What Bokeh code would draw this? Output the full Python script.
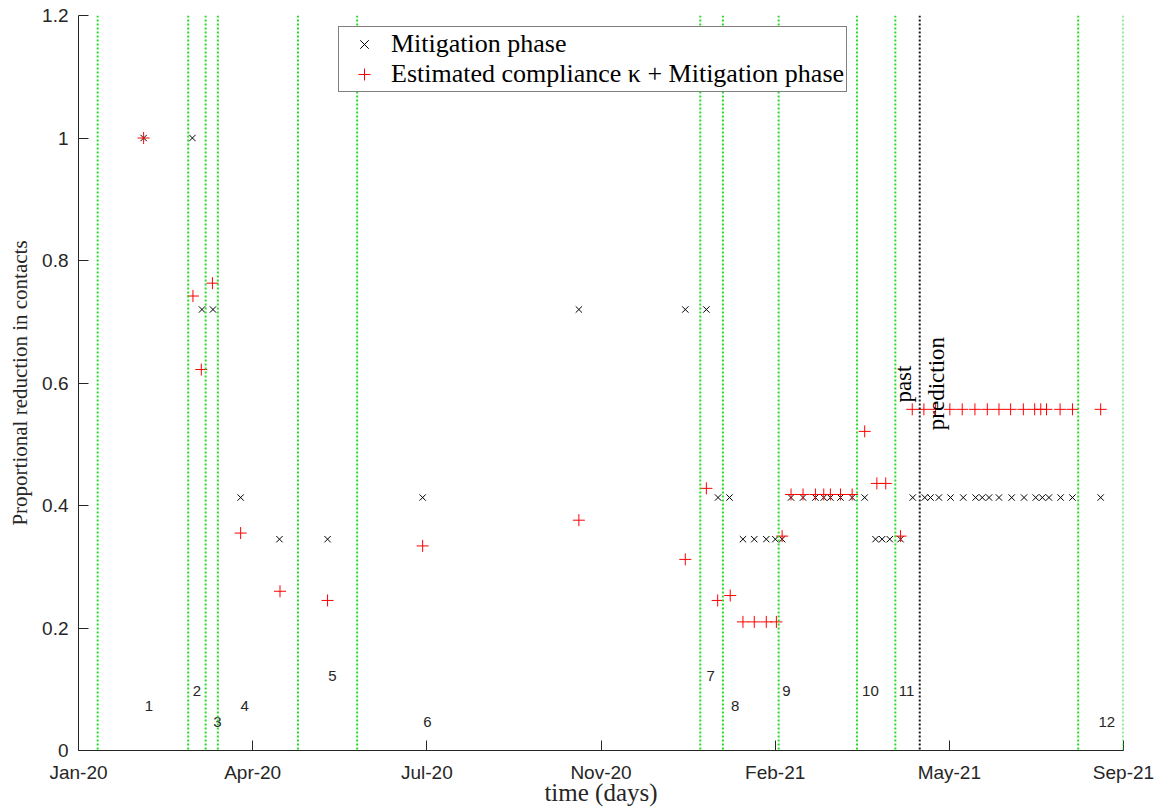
import math
from bokeh.plotting import figure
from bokeh.models import Range1d, FixedTicker, Span, Legend, LegendItem, ColumnDataSource
from bokeh.embed import file_html
from bokeh.resources import INLINE
from bokeh.core.properties import value

# Time axis: days since the start of the simulation window
tick_days = [0, 100, 200, 300, 400, 500, 600]
tick_labels = ["Jan-20", "Apr-20", "Jul-20", "Nov-20", "Feb-21", "May-21", "Sep-21"]

y_ticks = [0, 0.2, 0.4, 0.6, 0.8, 1.0, 1.2]
y_tick_labels = ["0", "0.2", "0.4", "0.6", "0.8", "1", "1.2"]

# Days on which a new mitigation phase starts
phase_change_days = [11, 63, 73, 80, 126, 160, 357, 370, 402, 447, 469, 574, 600]
prediction_start_day = 483

# Mitigation phase (reduction in contacts)
mitigation_day = [37.4, 65.4, 70.9, 77.2, 93.1, 115.4, 143.0, 197.6, 287.3, 348.4,
                  360.5, 367.2, 373.8, 381.5, 388.0, 394.9, 400.1, 404.0,
                  409.1, 416.0, 423.1, 427.9, 431.7, 437.5, 444.2, 451.4,
                  457.6, 461.4, 465.8, 472.0,
                  479.0, 485.9, 489.2, 494.0, 500.7, 508.0, 515.1, 518.9, 522.8,
                  528.5, 535.8, 542.9, 549.6, 553.4, 557.2, 563.9, 570.7, 586.9]
mitigation_value = [1.0, 1.0, 0.72, 0.72, 0.413, 0.345, 0.345, 0.413, 0.72, 0.72,
                    0.72, 0.413, 0.413, 0.345, 0.345, 0.345, 0.345, 0.345,
                    0.413, 0.413, 0.413, 0.413, 0.413, 0.413, 0.413, 0.413,
                    0.345, 0.345, 0.345, 0.345,
                    0.413, 0.413, 0.413, 0.413, 0.413, 0.413, 0.413, 0.413, 0.413,
                    0.413, 0.413, 0.413, 0.413, 0.413, 0.413, 0.413, 0.413, 0.413]

# Estimated compliance kappa applied to the mitigation phase
compliance_day = [37.4, 65.7, 70.5, 76.9, 93.1, 115.7, 143.0, 197.6, 287.3, 348.4,
                  360.5, 367.0, 374.2, 381.5, 388.0, 394.9, 400.7, 404.0,
                  409.1, 416.0, 423.1, 427.9, 431.7, 437.5, 444.2,
                  451.4, 458.4, 463.5, 472.0,
                  478.7, 485.4, 492.1, 500.3, 507.4, 514.7, 521.8, 528.5, 535.2,
                  542.5, 549.0, 552.5, 555.8, 563.6, 570.7, 586.9]
compliance_value = [1.0, 0.742, 0.622, 0.763, 0.355, 0.26, 0.245, 0.334, 0.376, 0.312,
                    0.428, 0.245, 0.253, 0.21, 0.21, 0.21, 0.21, 0.35,
                    0.418, 0.418, 0.418, 0.418, 0.418, 0.418, 0.418,
                    0.521, 0.436, 0.436, 0.35,
                    0.557, 0.557, 0.557, 0.557, 0.557, 0.557, 0.557, 0.557, 0.557,
                    0.557, 0.557, 0.557, 0.557, 0.557, 0.557, 0.557]

# Phase numbers written near the bottom of each phase
phase_numbers = ["1", "2", "3", "4", "5", "6", "7", "8", "9", "10", "11", "12"]
phase_label_day = [40.4, 68.0, 79.7, 95.4, 145.8, 200.4, 363.0, 377.0, 406.4, 454.7, 475.4, 590.4]
phase_label_y = [0.072, 0.097, 0.047, 0.072, 0.122, 0.047, 0.122, 0.072, 0.097, 0.097, 0.097, 0.047]

AXIS_COLOR = "#262626"
SERIF = "Liberation Serif"
SANS = "Liberation Sans"

p = figure(width=1161, height=812,
           x_range=Range1d(0, 600), y_range=Range1d(0, 1.2),
           output_backend="svg", toolbar_location=None,
           min_border_left=78, min_border_right=38,
           min_border_top=15, min_border_bottom=62)
p.outline_line_color = None
p.grid.visible = False
p.background_fill_color = "white"
p.border_fill_color = "white"

for ax in (p.xaxis[0], p.yaxis[0]):
    ax.axis_line_color = AXIS_COLOR
    ax.major_tick_line_color = AXIS_COLOR
    ax.major_tick_in = 10
    ax.major_tick_out = 0
    ax.minor_tick_line_color = None
    ax.major_label_text_font = SANS
    ax.major_label_text_font_size = "19px"
    ax.major_label_text_color = AXIS_COLOR
    ax.axis_label_text_font = SERIF
    ax.axis_label_text_font_style = "normal"
    ax.axis_label_text_color = AXIS_COLOR

p.xaxis.ticker = FixedTicker(ticks=tick_days)
p.xaxis.major_label_overrides = dict(zip(tick_days, tick_labels))
p.xaxis.major_label_standoff = 11
p.xaxis.axis_label = "time (days)"
p.xaxis.axis_label_text_font_size = "25px"
p.xaxis.axis_label_standoff = -7

p.yaxis.ticker = FixedTicker(ticks=y_ticks)
p.yaxis.major_label_overrides = dict(zip(y_ticks, y_tick_labels))
p.yaxis.major_label_standoff = 10
p.yaxis.axis_label = "Proportional reduction in contacts"
p.yaxis.axis_label_text_font_size = "21px"
p.yaxis.axis_label_standoff = 7

# Phase boundaries and the start of the prediction period
for d in phase_change_days:
    p.add_layout(Span(location=d, dimension="height", line_color="#22dd22",
                      line_width=2, line_dash="2 2"))
p.add_layout(Span(location=prediction_start_day, dimension="height",
                  line_color="#1a1a1a", line_width=2, line_dash="2 2"))

mit_src = ColumnDataSource(dict(x=mitigation_day, y=mitigation_value))
comp_src = ColumnDataSource(dict(x=compliance_day, y=compliance_value))

r_mit = p.scatter("x", "y", source=mit_src, marker="x", size=9,
                  line_color="black", line_width=1)
r_comp = p.scatter("x", "y", source=comp_src, marker="cross", size=12,
                   line_color="red", line_width=1)

lab_src = ColumnDataSource(dict(x=phase_label_day, y=phase_label_y, t=phase_numbers))
p.text("x", "y", text="t", source=lab_src, text_font=value(SANS),
       text_font_size="15px", text_color=AXIS_COLOR,
       text_align="center", text_baseline="middle")

p.text(x=[473.7], y=[0.568], text=["past"], angle=math.pi / 2,
       text_font=value(SERIF), text_font_size="23px", text_color="black",
       text_align="left", text_baseline="middle")
p.text(x=[492.7], y=[0.523], text=["prediction"], angle=math.pi / 2,
       text_font=value(SERIF), text_font_size="23px", text_color="black",
       text_align="left", text_baseline="middle")

legend = Legend(items=[
    LegendItem(label="Mitigation phase", renderers=[r_mit]),
    LegendItem(label="Estimated compliance \u03ba + Mitigation phase", renderers=[r_comp]),
], location=(260, 658))
legend.label_text_font = SERIF
legend.label_text_font_size = "26px"
legend.label_text_color = "black"
legend.label_height = 30
legend.glyph_height = 30
legend.glyph_width = 46
legend.label_standoff = 4
legend.spacing = 0
legend.padding = 2
legend.margin = 0
legend.border_line_color = "black"
legend.border_line_width = 1
legend.background_fill_color = "white"
legend.background_fill_alpha = 1.0
p.add_layout(legend)

open("out.html", "w").write(file_html(p, INLINE))
